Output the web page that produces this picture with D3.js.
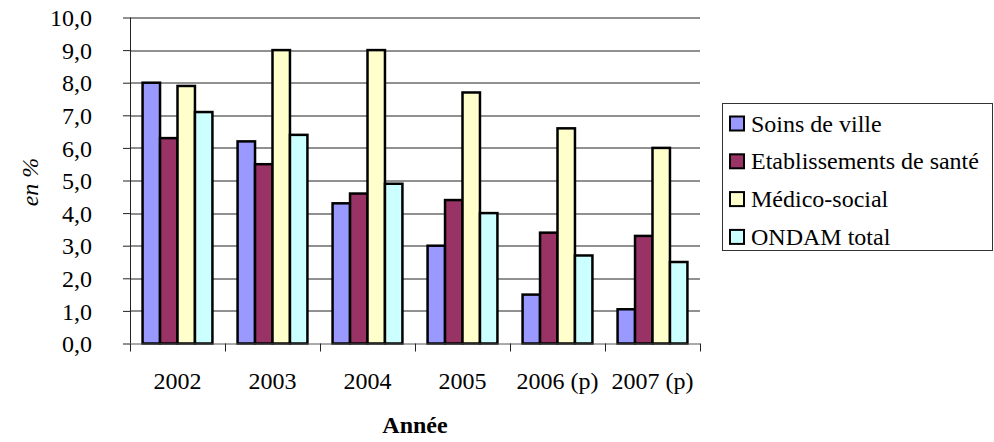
<!DOCTYPE html>
<html>
<head>
<meta charset="utf-8">
<script src="https://cdn.jsdelivr.net/npm/d3@7"></script>
</head>
<body style="margin:0">
<script>
var categories = ["2002", "2003", "2004", "2005", "2006 (p)", "2007 (p)"];
var seriesNames = ["Soins de ville", "Etablissements de santé", "Médico-social", "ONDAM total"];
var soinsDeVille = [8.0, 6.2, 4.3, 3.0, 1.5, 1.05];
var etablissements = [6.3, 5.5, 4.6, 4.4, 3.4, 3.3];
var medicoSocial = [7.9, 9.0, 9.0, 7.7, 6.6, 6.0];
var ondamTotal = [7.1, 6.4, 4.9, 4.0, 2.7, 2.5];
var yTicks = [0, 1, 2, 3, 4, 5, 6, 7, 8, 9, 10];
var colors = ["#9999ff", "#993366", "#ffffcc", "#ccffff"];

var series = [soinsDeVille, etablissements, medicoSocial, ondamTotal];

var margin = {top: 17.5, left: 130},
    width = 570,
    height = 326;

var svg = d3.select("body").append("svg")
    .attr("width", 994)
    .attr("height", 442)
    .attr("font-family", "Liberation Serif")
    .style("font-family", "'Liberation Serif'")
    .style("font-size", "24px");

var g = svg.append("g")
    .attr("transform", "translate(" + margin.left + "," + margin.top + ")");

var x = d3.scaleBand()
    .domain(categories)
    .range([0, width]);

var x1 = d3.scaleBand()
    .domain(d3.range(series.length))
    .range([0, x.bandwidth()])
    .paddingOuter(0.72);

var y = d3.scaleLinear()
    .domain([0, 10])
    .range([height, 0]);

// gridlines
g.append("g").selectAll("line")
    .data(yTicks.slice(1))
  .enter().append("line")
    .attr("x1", 0)
    .attr("x2", width)
    .attr("y1", function(d) { return Math.round(y(d)) + 0.5; })
    .attr("y2", function(d) { return Math.round(y(d)) + 0.5; })
    .attr("stroke", "#222")
    .attr("stroke-width", 1);

// y axis
var yAxis = d3.axisLeft(y)
    .tickValues(yTicks)
    .tickSize(7)
    .tickPadding(31)
    .tickFormat(function(d) { return d3.format(".1f")(d).replace(".", ","); });

var ya = g.append("g").call(yAxis)
    .attr("font-family", "Liberation Serif")
    .attr("font-size", 24);
ya.select(".domain").attr("stroke", "#222").attr("d", "M0.5,0V" + height);
ya.selectAll(".tick line").attr("stroke", "#222");
ya.selectAll(".tick text")
    .attr("fill", "#000")
    .attr("dy", "0.34em");

// bars
var groups = g.append("g").selectAll("g")
    .data(categories)
  .enter().append("g")
    .attr("transform", function(d) { return "translate(" + x(d) + ",0)"; });

groups.selectAll("rect")
    .data(function(d, i) { return series.map(function(s, k) { return {k: k, v: s[i]}; }); })
  .enter().append("rect")
    .attr("x", function(d) { return x1(d.k); })
    .attr("width", x1.bandwidth())
    .attr("y", function(d) { return y(d.v); })
    .attr("height", function(d) { return height - y(d.v); })
    .attr("fill", function(d) { return colors[d.k]; })
    .attr("stroke", "#000")
    .attr("stroke-width", 2.5);

// x axis
var xa = g.append("g")
    .attr("transform", "translate(0," + height + ")");
xa.append("path")
    .attr("stroke", "#555")
    .attr("d", "M0,0.5H" + width);

xa.selectAll(".sep")
    .data(d3.range(categories.length + 1))
  .enter().append("line")
    .attr("x1", function(i) { return Math.round(i * x.step()) + 0.5; })
    .attr("x2", function(i) { return Math.round(i * x.step()) + 0.5; })
    .attr("y1", 0)
    .attr("y2", 8)
    .attr("stroke", "#222");

g.append("g").selectAll("text")
    .data(categories)
  .enter().append("text")
    .attr("x", function(d) { return x(d) + x.bandwidth() / 2; })
    .attr("y", height + 45)
    .attr("text-anchor", "middle")
    .text(function(d) { return d; });

// axis titles
svg.append("text")
    .attr("x", 415)
    .attr("y", 433)
    .attr("text-anchor", "middle")
    .attr("font-weight", "bold")
    .text("Année");

svg.append("text")
    .attr("transform", "translate(38,182) rotate(-90)")
    .attr("text-anchor", "middle")
    .attr("font-style", "italic")
    .text("en %");

// legend
var legend = svg.append("g").attr("transform", "translate(722,103)");
legend.append("rect")
    .attr("x", 0.5)
    .attr("y", 0.5)
    .attr("width", 270)
    .attr("height", 147)
    .attr("fill", "#fff")
    .attr("stroke", "#333");

var item = legend.selectAll(".item")
    .data(seriesNames)
  .enter().append("g")
    .attr("transform", function(d, i) { return "translate(0," + (20.5 + i * 37.8) + ")"; });

item.append("rect")
    .attr("x", 8)
    .attr("y", -7)
    .attr("width", 14)
    .attr("height", 14)
    .attr("fill", function(d, i) { return colors[i]; })
    .attr("stroke", "#000")
    .attr("stroke-width", 2);

item.append("text")
    .attr("x", 29)
    .attr("y", 8)
    .text(function(d) { return d; });
</script>
</body>
</html>
